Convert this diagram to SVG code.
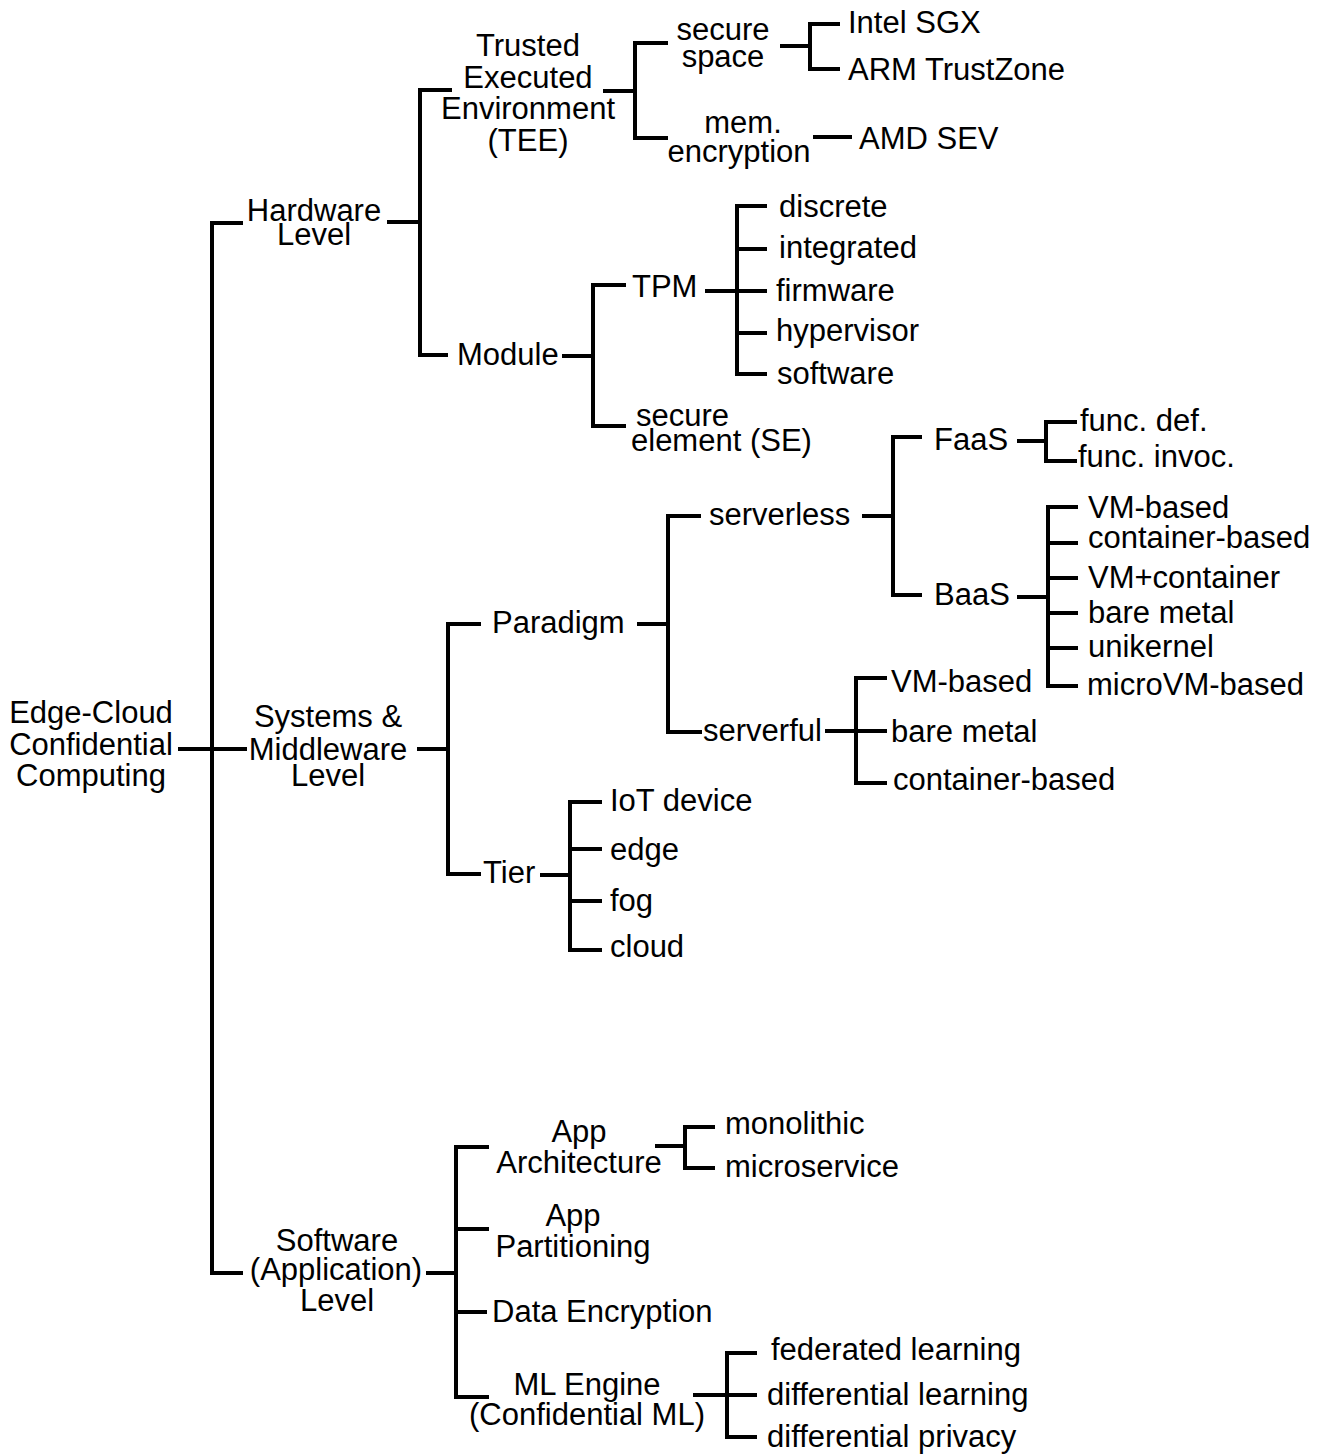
<svg xmlns="http://www.w3.org/2000/svg" width="1323" height="1454" viewBox="0 0 1323 1454">
<style>
text { font-family: "Liberation Sans", Arial, sans-serif; font-size: 31px; fill: #000; }
.m { text-anchor: middle; }
.c path { fill: none; stroke: #000; stroke-width: 4; stroke-linejoin: miter; stroke-linecap: butt; }
</style>
<rect width="1323" height="1454" fill="#fff"/>
<g id="connectors" class="c">
  <path d="M178 749 H247"/>
  <path d="M243 223 H212 V1273 H243"/>
  <path d="M387 222 H420"/>
  <path d="M452 90 H420 V355 H448"/>
  <path d="M603 91 H635"/>
  <path d="M668 43 H635 V138 H668"/>
  <path d="M780 46 H810"/>
  <path d="M840 24 H810 V69 H840"/>
  <path d="M813 137 H852"/>
  <path d="M562 356 H593"/>
  <path d="M626 285 H593 V426 H626"/>
  <path d="M705 291 H767"/>
  <path d="M767 206 H737 V374 H767"/>
  <path d="M737 249 H767 M737 333 H767"/>
  <path d="M417 749 H448"/>
  <path d="M481 624 H448 V874 H481"/>
  <path d="M637 624 H668"/>
  <path d="M701 516 H668 V732 H702"/>
  <path d="M862 516 H893"/>
  <path d="M922 437 H893 V595 H922"/>
  <path d="M1017 441 H1046"/>
  <path d="M1077 422 H1046 V461 H1077"/>
  <path d="M1017 597 H1048"/>
  <path d="M1078 507 H1048 V686 H1078"/>
  <path d="M1048 543 H1078 M1048 578 H1078 M1048 613 H1078 M1048 648 H1078"/>
  <path d="M825 731 H887"/>
  <path d="M887 678 H856 V783 H887"/>
  <path d="M540 875 H570"/>
  <path d="M602 802 H570 V950 H602"/>
  <path d="M570 849 H602 M570 901 H602"/>
  <path d="M426 1273 H456"/>
  <path d="M489 1147 H456 V1397 H489"/>
  <path d="M456 1229 H489 M456 1312 H487"/>
  <path d="M655 1146 H685"/>
  <path d="M715 1127 H685 V1168 H715"/>
  <path d="M693 1395 H757"/>
  <path d="M757 1353 H727 V1437 H757"/>
</g>
<g id="root"><text class="m" x="91" y="723">Edge-Cloud</text><text class="m" x="91" y="755">Confidential</text><text class="m" x="91" y="786">Computing</text></g>
<g id="hardware"><text class="m" x="314" y="221">Hardware</text><text class="m" x="314" y="245">Level</text></g>
<g id="tee"><text class="m" x="528" y="56">Trusted</text><text class="m" x="528" y="88">Executed</text><text class="m" x="528" y="119">Environment</text><text class="m" x="528" y="151">(TEE)</text></g>
<g id="secure-space"><text class="m" x="723" y="40">secure</text><text class="m" x="723" y="67">space</text></g>
<g id="intel-sgx"><text x="848" y="33">Intel SGX</text></g>
<g id="arm-trustzone"><text x="848" y="80">ARM TrustZone</text></g>
<g id="mem-encryption"><text class="m" x="743" y="133">mem.</text><text class="m" x="739" y="162">encryption</text></g>
<g id="amd-sev"><text x="859" y="149">AMD SEV</text></g>
<g id="module"><text x="457" y="365">Module</text></g>
<g id="tpm"><text x="632" y="297">TPM</text></g>
<g id="tpm-discrete"><text x="779" y="217">discrete</text></g>
<g id="tpm-integrated"><text x="779" y="258">integrated</text></g>
<g id="tpm-firmware"><text x="776" y="301">firmware</text></g>
<g id="tpm-hypervisor"><text x="776" y="341">hypervisor</text></g>
<g id="tpm-software"><text x="777" y="384">software</text></g>
<g id="secure-element"><text x="636" y="426">secure</text><text x="631" y="451">element (SE)</text></g>
<g id="systems"><text class="m" x="328" y="727">Systems &amp;</text><text class="m" x="328" y="760">Middleware</text><text class="m" x="328" y="786">Level</text></g>
<g id="paradigm"><text x="492" y="633">Paradigm</text></g>
<g id="serverless"><text x="709" y="525">serverless</text></g>
<g id="faas"><text x="934" y="450">FaaS</text></g>
<g id="func-def"><text x="1080" y="431">func. def.</text></g>
<g id="func-invoc"><text x="1078" y="467">func. invoc.</text></g>
<g id="baas"><text x="934" y="605">BaaS</text></g>
<g id="baas-vm"><text x="1088" y="518">VM-based</text></g>
<g id="baas-container"><text x="1088" y="548">container-based</text></g>
<g id="baas-vmcontainer"><text x="1088" y="588">VM+container</text></g>
<g id="baas-baremetal"><text x="1088" y="623">bare metal</text></g>
<g id="baas-unikernel"><text x="1088" y="657">unikernel</text></g>
<g id="baas-microvm"><text x="1087" y="695">microVM-based</text></g>
<g id="serverful"><text x="703" y="741">serverful</text></g>
<g id="serverful-vm"><text x="891" y="692">VM-based</text></g>
<g id="serverful-baremetal"><text x="891" y="742">bare metal</text></g>
<g id="serverful-container"><text x="893" y="790">container-based</text></g>
<g id="tier"><text x="483" y="883">Tier</text></g>
<g id="tier-iot"><text x="610" y="811">IoT device</text></g>
<g id="tier-edge"><text x="610" y="860">edge</text></g>
<g id="tier-fog"><text x="610" y="911">fog</text></g>
<g id="tier-cloud"><text x="610" y="957">cloud</text></g>
<g id="software"><text class="m" x="337" y="1251">Software</text><text class="m" x="336" y="1280">(Application)</text><text class="m" x="337" y="1311">Level</text></g>
<g id="app-architecture"><text class="m" x="579" y="1142">App</text><text class="m" x="579" y="1173">Architecture</text></g>
<g id="monolithic"><text x="725" y="1134">monolithic</text></g>
<g id="microservice"><text x="725" y="1177">microservice</text></g>
<g id="app-partitioning"><text class="m" x="573" y="1226">App</text><text class="m" x="573" y="1257">Partitioning</text></g>
<g id="data-encryption"><text x="492" y="1322">Data Encryption</text></g>
<g id="ml-engine"><text class="m" x="587" y="1395">ML Engine</text><text class="m" x="587" y="1425">(Confidential ML)</text></g>
<g id="federated-learning"><text x="771" y="1360">federated learning</text></g>
<g id="differential-learning"><text x="767" y="1405">differential learning</text></g>
<g id="differential-privacy"><text x="767" y="1447">differential privacy</text></g>
</svg>
